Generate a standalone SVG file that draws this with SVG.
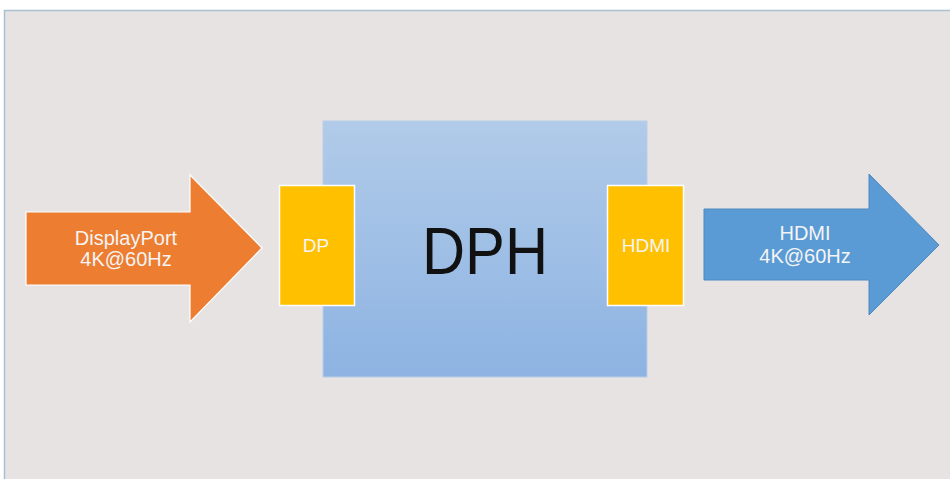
<svg xmlns="http://www.w3.org/2000/svg" width="950" height="479" viewBox="0 0 950 479">
<defs>
<linearGradient id="g" x1="0" y1="0" x2="0" y2="1">
<stop offset="0" stop-color="#b1cbe9"/>
<stop offset="1" stop-color="#8db3e2"/>
</linearGradient>
<style>
.lbl{font-family:"Liberation Sans","Open Sans",sans-serif;fill:#f4f4f4;text-anchor:middle}
.port{fill:#ffc000;stroke:#ffffff;stroke-width:1.5}
</style>
</defs>
<rect width="950" height="479" fill="#ffffff"/>
<rect x="4.5" y="10.5" width="950" height="470" fill="#e7e3e3" stroke="#a9c0cf" stroke-width="1.5"/>
<g id="main">
<rect x="323" y="121" width="324" height="256" fill="url(#g)" stroke="#b8cfe9" stroke-width="1"/>
<text x="485" y="274" font-family="Liberation Sans,Open Sans,sans-serif" font-size="66" fill="#111111" text-anchor="middle" textLength="126" lengthAdjust="spacingAndGlyphs">DPH</text>
</g>
<g id="dp-port">
<rect class="port" x="279.5" y="185.5" width="75" height="120"/>
<text class="lbl" x="316" y="252" font-size="19">DP</text>
</g>
<g id="hdmi-port">
<rect class="port" x="607.5" y="185.5" width="76" height="120"/>
<text class="lbl" x="646" y="252" font-size="19">HDMI</text>
</g>
<g id="connectors">
<g id="in-arrow">
<polygon points="26,212 190,212 190,175 262,248 190,322 190,285 26,285" fill="#ed7d31" stroke="#ffffff" stroke-width="1.2"/>
<text class="lbl" x="126" y="245" font-size="20">DisplayPort</text>
<text class="lbl" x="126" y="266" font-size="20">4K@60Hz</text>
</g>
<g id="out-arrow">
<polygon points="704,209 869,209 869,174 939,245 869,315 869,280 704,280" fill="#5b9bd5" stroke="#4f88bd" stroke-width="1"/>
<text class="lbl" x="805" y="240" font-size="20">HDMI</text>
<text class="lbl" x="805" y="263" font-size="20">4K@60Hz</text>
</g>
</g>
</svg>
